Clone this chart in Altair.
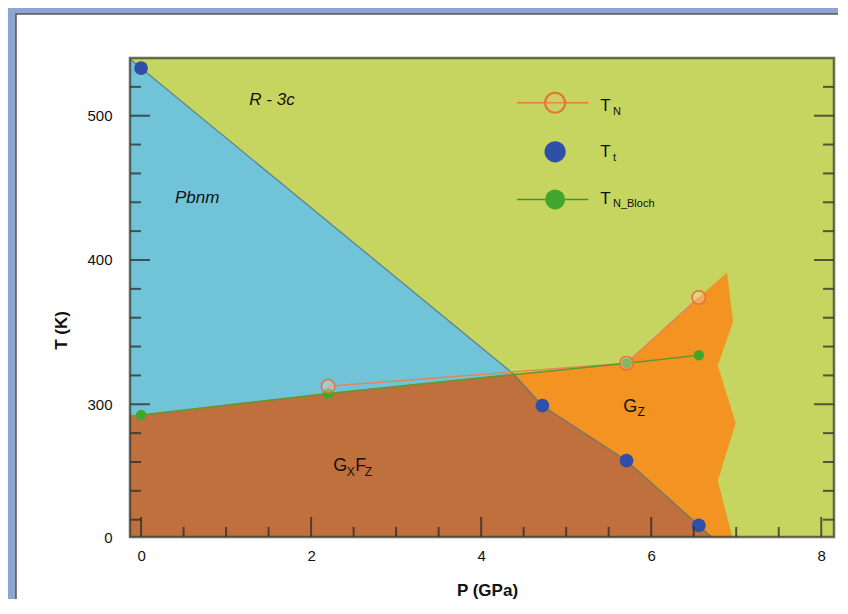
import altair as alt
import pandas as pd

# ---------------- data ----------------
P_MIN, P_MAX = -0.13, 8.15
T_MIN, T_MAX = 208, 540

# measured transition temperatures
tt_P = [0.0, 4.72, 5.71, 6.56]
tt_T = [533, 299, 261, 216]
tn_P = [2.2, 5.71, 6.56]
tn_T = [312.5, 328.5, 374]
tb_P = [0.0, 2.2, 5.71, 6.56]
tb_T = [292.5, 307.5, 328.5, 334]

# phase regions (polygon vertices, P in GPa, T in K)
pbnm_P = [P_MIN, 4.38, 2.2, 0.0, P_MIN]
pbnm_T = [539.3, 321, 307.5, 292.5, 292.5]
gxfz_P = [P_MIN, P_MIN, 0.0, 2.2, 4.38, 4.72, 5.71, 6.56, 6.71]
gxfz_T = [T_MIN, 292.5, 292.5, 307.5, 321, 299, 261, 216, T_MIN]
gz_P = [4.38, 5.71, 6.56, 6.89, 6.96, 6.78, 6.99, 6.78, 6.95, 6.71, 6.56, 5.71, 4.72]
gz_T = [321, 328.5, 374, 391, 357, 327, 287, 247, T_MIN, T_MIN, 216, 261, 299]
bound_P = [P_MIN, 4.38, 4.72, 5.71, 6.56, 6.71]
bound_T = [539.3, 321, 299, 261, 216, T_MIN]

# axis ticks
x_major = [0, 2, 4, 6, 8]
x_minor = [0.5, 1, 1.5, 2.5, 3, 3.5, 4.5, 5, 5.5, 6.5, 7, 7.5]
y_major = [300, 400, 500]
y_minor = [220, 240, 260, 280, 320, 340, 360, 380, 420, 440, 460, 480, 520]
y_labels = [T_MIN, 300, 400, 500]

# annotations
region_text = ["R - 3c", "Pbnm"]
region_P = [1.54, 0.66]
region_T = [511, 443]
sub_main = ["G", "F", "G"]
sub_main_P = [2.26, 2.52, 5.67]
sub_main_T = [253.5, 253.5, 294.4]
sub_small = ["X", "Z", "Z"]
sub_small_P = [2.42, 2.63, 5.84]
sub_small_T = [250.5, 250.5, 292]

# legend
leg_sym_P = [4.87, 4.87, 4.87]
leg_sym_T = [509, 475, 442]
leg_line_P0 = [4.42, 4.42]
leg_line_P1 = [5.26, 5.26]
leg_line_T = [509, 442]
leg_T_P = [5.40, 5.40, 5.40]
leg_T_T = [503.5, 471.5, 439]
leg_sub = ["N", "t", "N_Bloch"]
leg_sub_P = [5.55, 5.55, 5.55]
leg_sub_T = [500.5, 468.5, 436.5]

# ---------------- styling ----------------
FRAME = "#8ca6d1"
BG = "#c6d55f"
CYAN = "#71c4d8"
BROWN = "#c0703d"
ORANGE = "#f29322"
BLUE = "#3050a8"
GREEN = "#42a62c"
TNCOL = "#e8703a"
FONT = "Liberation Sans"
W, H = 704, 479

xs = alt.Scale(domain=[P_MIN, P_MAX], nice=False, zero=False)
ys = alt.Scale(domain=[T_MIN, T_MAX], nice=False, zero=False)

AX_X = alt.Axis(
    values=x_major, ticks=False, domain=False, grid=False, title="P (GPa)",
    labelFontSize=15, labelFont=FONT, labelColor="#111", labelPadding=11,
    labelFlush=False, titleFont=FONT, titleFontSize=17, titleFontWeight="bold",
    titleColor="#111", titleX=357, titleY=53, titleBaseline="middle", zindex=5)
AX_Y = alt.Axis(
    values=y_labels, ticks=False, domain=False, grid=False, title="T (K)",
    labelExpr="datum.value < 250 ? '0' : datum.label",
    labelFontSize=15, labelFont=FONT, labelColor="#111", labelPadding=18,
    labelFlush=False, titleFont=FONT, titleFontSize=17, titleFontWeight="bold",
    titleColor="#111", titleX=-69, titleY=272, titleBaseline="middle", titleAngle=-90,
    zindex=5)


def X(f="P"):
    return alt.X(f"{f}:Q", scale=xs, axis=AX_X)


def Y(f="T"):
    return alt.Y(f"{f}:Q", scale=ys, axis=AX_Y)


one = pd.DataFrame({"a": [0]})

panel = alt.Chart(one).mark_rect(fill="white", stroke="#555555", strokeWidth=1.5).encode(
    x=alt.value(-114), x2=alt.value(760), y=alt.value(-44), y2=alt.value(620)
)

bgdf = pd.DataFrame({"P0": [P_MIN], "P1": [P_MAX], "T0": [T_MIN], "T1": [T_MAX]})
background = alt.Chart(bgdf).mark_rect(fill=BG).encode(
    x=X("P0"), x2="P1:Q", y=Y("T0"), y2="T1:Q")


def poly(P, T, color):
    df = pd.DataFrame({"P": P, "T": T, "i": list(range(len(P)))})
    return alt.Chart(df).mark_line(fill=color, stroke=color, strokeWidth=0.5).encode(
        x=X(), y=Y(), order="i:Q"
    )


def path(P, T, color, width=1.5, opacity=1.0):
    df = pd.DataFrame({"P": P, "T": T, "i": list(range(len(P)))})
    return alt.Chart(df).mark_line(color=color, strokeWidth=width, opacity=opacity).encode(
        x=X(), y=Y(), order="i:Q"
    )


cyan = poly(pbnm_P, pbnm_T, CYAN)
brown = poly(gxfz_P, gxfz_T, BROWN)
orange = poly(gz_P, gz_T, ORANGE)
boundary = path(bound_P, bound_T, "#4f6e84", 1.3, 0.75)
tn_line = path(tn_P, tn_T, "#e4845a", 1.5)
tb_line = path(tb_P, tb_T, "#5e9a2c", 1.5)

tt_pts = alt.Chart(pd.DataFrame({"P": tt_P, "T": tt_T})).mark_point(
    shape="circle", filled=True, size=190, color=BLUE, opacity=1).encode(x=X(), y=Y())
tb_pts = alt.Chart(pd.DataFrame({"P": tb_P, "T": tb_T})).mark_point(
    shape="circle", filled=True, size=110, color=GREEN, opacity=1).encode(x=X(), y=Y())
tn_pts = alt.Chart(pd.DataFrame({"P": tn_P, "T": tn_T})).mark_point(
    shape="circle", size=180, stroke=TNCOL, strokeWidth=1.6, fill="#ffd9c2",
    fillOpacity=0.35, opacity=1).encode(x=X(), y=Y())

TICK = dict(color="#2b2b2b", strokeWidth=2, opacity=0.75)
ticks = [
    alt.Chart(pd.DataFrame({"T": y_major})).mark_rule(**TICK).encode(
        y=Y(), x=alt.value(0), x2=alt.value(20)),
    alt.Chart(pd.DataFrame({"T": y_minor})).mark_rule(**TICK).encode(
        y=Y(), x=alt.value(0), x2=alt.value(11)),
    alt.Chart(pd.DataFrame({"T": y_major})).mark_rule(**TICK).encode(
        y=Y(), x=alt.value(W), x2=alt.value(W - 20)),
    alt.Chart(pd.DataFrame({"T": y_minor})).mark_rule(**TICK).encode(
        y=Y(), x=alt.value(W), x2=alt.value(W - 11)),
    alt.Chart(pd.DataFrame({"P": x_major})).mark_rule(**TICK).encode(
        x=X(), y=alt.value(H), y2=alt.value(H - 20)),
    alt.Chart(pd.DataFrame({"P": x_minor})).mark_rule(**TICK).encode(
        x=X(), y=alt.value(H), y2=alt.value(H - 10)),
]

border = alt.Chart(bgdf).mark_rect(fillOpacity=0, stroke="#3a3f30", strokeWidth=2.5,
                                   strokeOpacity=0.75).encode(
    x=X("P0"), x2="P1:Q", y=Y("T0"), y2="T1:Q")

regions = alt.Chart(pd.DataFrame({"P": region_P, "T": region_T, "t": region_text})).mark_text(
    font=FONT, fontSize=17, fontStyle="italic", color="#111", baseline="middle").encode(
    x=X(), y=Y(), text="t:N")
subs_main = alt.Chart(pd.DataFrame({"P": sub_main_P, "T": sub_main_T, "t": sub_main})).mark_text(
    font=FONT, fontSize=18, color="#111", align="left", baseline="alphabetic").encode(
    x=X(), y=Y(), text="t:N")
subs_small = alt.Chart(pd.DataFrame({"P": sub_small_P, "T": sub_small_T, "t": sub_small})).mark_text(
    font=FONT, fontSize=12, color="#111", align="left", baseline="alphabetic").encode(
    x=X(), y=Y(), text="t:N")

leg_lines = alt.Chart(pd.DataFrame({
    "P0": leg_line_P0, "P1": leg_line_P1, "T": leg_line_T, "c": ["TN", "TB"]})).mark_rule(
    strokeWidth=1.5).encode(
    x=X("P0"), x2="P1:Q", y=Y(),
    color=alt.Color("c:N", scale=alt.Scale(domain=["TN", "TB"], range=["#e07a4a", "#5a8a2a"]),
                    legend=None))
leg_tn = alt.Chart(pd.DataFrame({"P": leg_sym_P[:1], "T": leg_sym_T[:1]})).mark_point(
    shape="circle", size=400, stroke="#e07a30", strokeWidth=2.2, fill="#f0c080",
    fillOpacity=0.2, opacity=1).encode(x=X(), y=Y())
leg_tt = alt.Chart(pd.DataFrame({"P": leg_sym_P[1:2], "T": leg_sym_T[1:2]})).mark_point(
    shape="circle", size=450, filled=True, color=BLUE, opacity=1).encode(x=X(), y=Y())
leg_tb = alt.Chart(pd.DataFrame({"P": leg_sym_P[2:], "T": leg_sym_T[2:]})).mark_point(
    shape="circle", size=400, filled=True, color=GREEN, opacity=1).encode(x=X(), y=Y())
leg_T = alt.Chart(pd.DataFrame({"P": leg_T_P, "T": leg_T_T, "t": ["T", "T", "T"]})).mark_text(
    font=FONT, fontSize=17, color="#111", align="left", baseline="alphabetic").encode(
    x=X(), y=Y(), text="t:N")
leg_s = alt.Chart(pd.DataFrame({"P": leg_sub_P, "T": leg_sub_T, "t": leg_sub})).mark_text(
    font=FONT, fontSize=11, color="#111", align="left", baseline="alphabetic").encode(
    x=X(), y=Y(), text="t:N")

chart = alt.layer(
    panel, background, cyan, brown, orange, boundary, tn_line, tb_line,
    tt_pts, tb_pts, tn_pts, *ticks, border, regions, subs_main, subs_small,
    leg_lines, leg_tn, leg_tt, leg_tb, leg_T, leg_s,
).properties(
    width=W, height=H, background=FRAME,
    autosize=alt.AutoSizeParams(type="none"),
    padding={"left": 122, "top": 50, "right": 4, "bottom": 62},
).configure_view(strokeWidth=0)

chart.save("out.html", embed_options={"renderer": "svg", "actions": False})
